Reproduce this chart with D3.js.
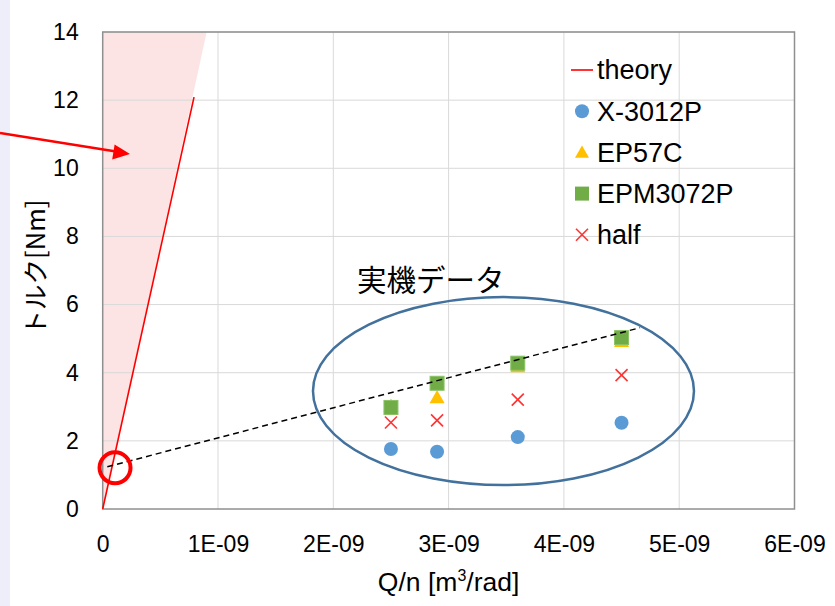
<!DOCTYPE html>
<html>
<head>
<meta charset="utf-8">
<script src="https://cdn.jsdelivr.net/npm/d3@7"></script>
<style>
  html, body { margin: 0; padding: 0; background: #ffffff; }
  svg { display: block; }
  text { font-family: "Liberation Sans", Arial, Helvetica, sans-serif; fill: #000; }
</style>
</head>
<body>
<div id="chart"></div>
<script>
// ---- data ----
const qn = [2.5e-9, 2.9e-9, 3.6e-9, 4.5e-9];
const x3012P = [1.76, 1.68, 2.11, 2.53];
const ep57C = [3.02, 3.27, 4.18, 4.92];
const epm3072P = [2.98, 3.69, 4.28, 5.03];
const half = [2.54, 2.60, 3.21, 3.93];
const theoryX = [0, 7.92e-10];
const theoryY = [0, 12.09];
const trendX = [0.04e-9, 4.66e-9];
const trendY = [1.24, 5.32];
const xTicks = [0, 1e-9, 2e-9, 3e-9, 4e-9, 5e-9, 6e-9];
const xTickLabels = ["0", "1E-09", "2E-09", "3E-09", "4E-09", "5E-09", "6E-09"];
const yTicks = [0, 2, 4, 6, 8, 10, 12, 14];
const seriesNames = ["theory", "X-3012P", "EP57C", "EPM3072P", "half"];

const W = 835, H = 606;
const plot = { left: 102.7, right: 794.5, top: 32, bottom: 509 };

const svg = d3.select("#chart").append("svg").attr("width", W).attr("height", H);

// lavender strip at left edge
svg.append("rect").attr("x", 0).attr("y", 0).attr("width", 10).attr("height", H).attr("fill", "#eeeefb");

const x = d3.scaleLinear().domain([0, 6e-9]).range([plot.left, plot.right]);
const y = d3.scaleLinear().domain([0, 14]).range([plot.bottom, plot.top]);

// pink wedge
const wedgeTopX = 0.902e-9;
svg.append("path")
  .attr("d", d3.line()([[x(0), y(0)], [x(wedgeTopX), y(14)], [x(0), y(14)]]) + "Z")
  .attr("fill", "#fde4e4");

// gridlines
svg.append("g").selectAll("line").data(yTicks.slice(1)).join("line")
  .attr("x1", plot.left).attr("x2", plot.right)
  .attr("y1", d => y(d)).attr("y2", d => y(d))
  .attr("stroke", "#d9d9d9").attr("stroke-width", 1);
svg.append("g").selectAll("line").data(xTicks.slice(1)).join("line")
  .attr("y1", plot.top).attr("y2", plot.bottom)
  .attr("x1", d => x(d)).attr("x2", d => x(d))
  .attr("stroke", "#d9d9d9").attr("stroke-width", 1);

// plot frame
svg.append("rect")
  .attr("x", plot.left).attr("y", plot.top)
  .attr("width", plot.right - plot.left).attr("height", plot.bottom - plot.top)
  .attr("fill", "none").attr("stroke", "#8f8f8f").attr("stroke-width", 1.5);

// axes
const yAxis = d3.axisLeft(y).tickValues(yTicks).tickSize(0).tickPadding(24).tickFormat(d3.format("d"));
const gy = svg.append("g").attr("transform", `translate(${plot.left},0)`).call(yAxis);
gy.select(".domain").remove();
gy.selectAll("text").style("font-size", "23px").attr("fill", "#000")
  .style("font-family", "'Liberation Sans', Arial, sans-serif");

const xAxis = d3.axisBottom(x).tickValues(xTicks).tickSize(0).tickPadding(27)
  .tickFormat((d, i) => xTickLabels[i]);
const gx = svg.append("g").attr("transform", `translate(0,${plot.bottom})`).call(xAxis);
gx.select(".domain").remove();
gx.selectAll("text").style("font-size", "23px").attr("fill", "#000")
  .style("font-family", "'Liberation Sans', Arial, sans-serif");

// axis titles
const xt = svg.append("text").attr("x", (plot.left + plot.right) / 2).attr("y", 591)
  .attr("text-anchor", "middle").style("font-size", "26.5px");
xt.append("tspan").text("Q/n [m");
xt.append("tspan").text("3").attr("dy", -10).style("font-size", "16px");
xt.append("tspan").text("/rad]").attr("dy", 10);

svg.append("text")
  .attr("transform", `translate(45,${(plot.top + plot.bottom) / 2 - 3}) rotate(-90)`)
  .attr("text-anchor", "middle")
  .style("font-size", "25.5px")
  .style("font-family", "'Noto Sans CJK JP', sans-serif")
  .text("トルク[Nm]");

// theory line
svg.append("path")
  .attr("d", d3.line().x((d, i) => x(theoryX[i])).y(d => y(d))(theoryY))
  .attr("stroke", "#ff0000").attr("stroke-width", 1.6).attr("fill", "none");

// markers
const blue = "#5b9bd5", gold = "#ffc000", green = "#70ad47", red = "#ff3333";
const tri = (s) => `M0,${-s * 0.5}L${s * 0.5},${s * 0.38}L${-s * 0.5},${s * 0.38}Z`;

svg.append("g").selectAll("circle").data(x3012P).join("circle")
  .attr("cx", (d, i) => x(qn[i])).attr("cy", d => y(d)).attr("r", 7).attr("fill", blue);
svg.append("g").selectAll("path").data(ep57C).join("path")
  .attr("transform", (d, i) => `translate(${x(qn[i])},${y(d)})`)
  .attr("d", tri(15)).attr("fill", gold);
svg.append("g").selectAll("rect").data(epm3072P).join("rect")
  .attr("x", (d, i) => x(qn[i]) - 7).attr("y", d => y(d) - 7)
  .attr("width", 14).attr("height", 14).attr("fill", green)
  .attr("stroke", "#8cc266").attr("stroke-width", 1);
const xs = svg.append("g").selectAll("g").data(half).join("g")
  .attr("transform", (d, i) => `translate(${x(qn[i])},${y(d)})`);
xs.append("line").attr("x1", -6).attr("y1", -6).attr("x2", 6).attr("y2", 6).attr("stroke", red).attr("stroke-width", 1.6);
xs.append("line").attr("x1", -6).attr("y1", 6).attr("x2", 6).attr("y2", -6).attr("stroke", red).attr("stroke-width", 1.6);

// trend dashed line
svg.append("path")
  .attr("d", d3.line().x((d, i) => x(trendX[i])).y(d => y(d))(trendY))
  .attr("stroke", "#000").attr("stroke-width", 1.5).attr("stroke-dasharray", "6,4").attr("fill", "none");

// blue ellipse
svg.append("ellipse")
  .attr("cx", x(3.476e-9)).attr("cy", y(3.46)).attr("rx", 190.5).attr("ry", 94)
  .attr("fill", "none").attr("stroke", "#41719c").attr("stroke-width", 2.5);

// red circle
svg.append("circle")
  .attr("cx", x(0.107e-9)).attr("cy", y(1.21)).attr("r", 15.5)
  .attr("fill", "none").attr("stroke", "#ff0000").attr("stroke-width", 4);

// annotation text
svg.append("text").attr("x", 357).attr("y", 291)
  .style("font-family", "'Noto Sans CJK JP', sans-serif").style("font-size", "29.5px")
  .text("実機データ");

// arrow
svg.append("line").attr("x1", 0).attr("y1", 133).attr("x2", 116).attr("y2", 151.6)
  .attr("stroke", "#ff0000").attr("stroke-width", 2.5);
svg.append("path")
  .attr("d", "M130,154 L112.2,159.4 L114.6,144.6 Z")
  .attr("fill", "#ff0000");

// legend
const lx = 582, ltx = 597, ly0 = 70, ldy = 41.2;
const leg = svg.append("g").selectAll("g").data(seriesNames).join("g")
  .attr("transform", (d, i) => `translate(${lx},${ly0 + i * ldy})`);
leg.append("text").attr("x", ltx - lx).attr("y", 0).attr("dy", "0.35em")
  .style("font-size", "27px").text(d => d);
leg.each(function(d, i) {
  const g = d3.select(this);
  if (i === 0) g.append("line").attr("x1", -11).attr("x2", 11).attr("stroke", "#ff0000").attr("stroke-width", 1.6);
  if (i === 1) g.append("circle").attr("r", 7).attr("fill", blue);
  if (i === 2) g.append("path").attr("d", tri(14)).attr("fill", gold);
  if (i === 3) g.append("rect").attr("x", -7).attr("y", -7).attr("width", 14).attr("height", 14).attr("fill", green);
  if (i === 4) {
    g.append("line").attr("x1", -6).attr("y1", -6).attr("x2", 6).attr("y2", 6).attr("stroke", red).attr("stroke-width", 1.6);
    g.append("line").attr("x1", -6).attr("y1", 6).attr("x2", 6).attr("y2", -6).attr("stroke", red).attr("stroke-width", 1.6);
  }
});
</script>
</body>
</html>
